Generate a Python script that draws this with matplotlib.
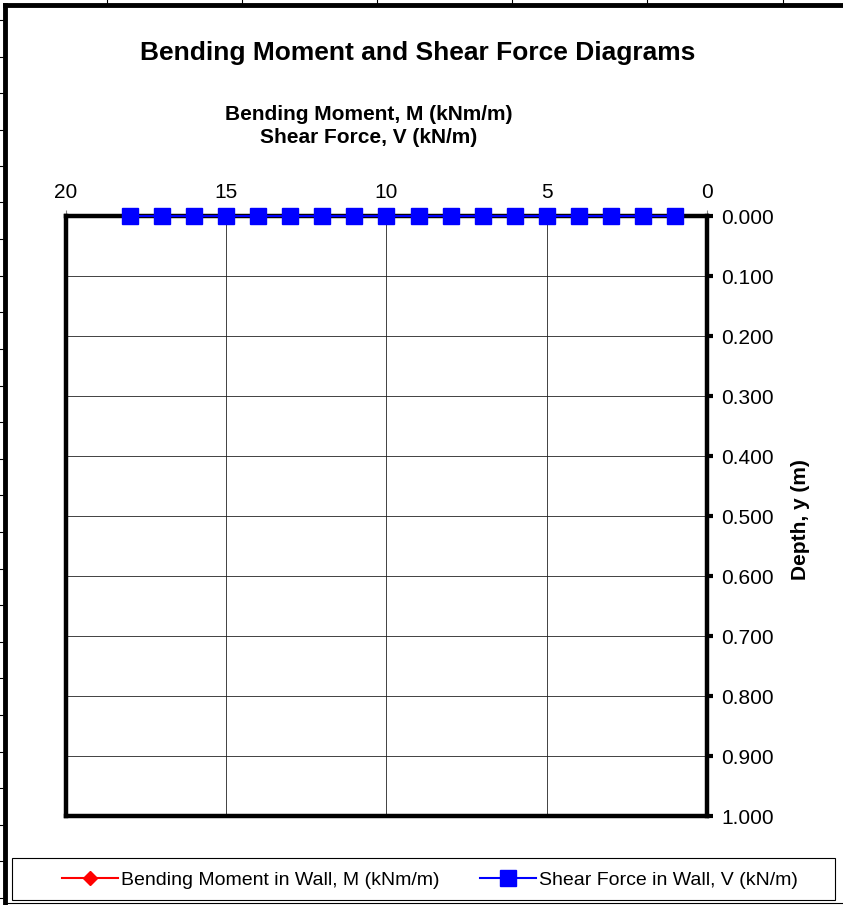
import matplotlib.pyplot as plt
from matplotlib.lines import Line2D
from matplotlib.patches import Rectangle

plt.rcParams['font.family'] = ['Liberation Sans', 'DejaVu Sans']

# data (all points sit at depth 0)
shear = [18, 17, 16, 15, 14, 13, 12, 11, 10, 9, 8, 7, 6, 5, 4, 3, 2, 1]
moment = [18, 17, 16, 15, 14, 13, 12, 11, 10, 9, 8, 7, 6, 5, 4, 3, 2, 1]
depth = [0.0, 0.0, 0.0, 0.0, 0.0, 0.0, 0.0, 0.0, 0.0, 0.0, 0.0, 0.0, 0.0, 0.0, 0.0, 0.0, 0.0, 0.0]
x_ticks = [20, 15, 10, 5, 0]
y_ticks = [0.0, 0.1, 0.2, 0.3, 0.4, 0.5, 0.6, 0.7, 0.8, 0.9, 1.0]

W, H = 843, 905
fig = plt.figure(figsize=(W/100, H/100), dpi=100)
ax = fig.add_axes([66/W, 1-816/H, (707-66)/W, 600/H])

ax.plot(moment, depth, color='red', lw=1.5, marker='D', ms=7, label='Bending Moment in Wall, M (kNm/m)', zorder=5, clip_on=False)
ax.plot(shear, depth, color='blue', lw=1.5, marker='s', ms=11, label='Shear Force in Wall, V (kN/m)', zorder=6, clip_on=False)

ax.set_xlim(20, 0)
ax.set_ylim(1, 0)
ax.set_xticks(x_ticks)
ax.set_yticks(y_ticks)
ax.set_yticklabels(['%.3f' % v for v in y_ticks])
ax.xaxis.tick_top()
ax.yaxis.tick_right()
ax.tick_params(axis='x', labelsize=15, length=4, width=0.8, color='gray', pad=6)
ax.tick_params(axis='y', labelsize=15, length=4, width=3, pad=6)
ax.grid(True, color='#222222', lw=0.6)
for s in ax.spines.values():
    s.set_linewidth(3.2)
    s.set_color('black')

fig.text(369/W, 1-126/H, 'Bending Moment, M (kNm/m)\nShear Force, V (kN/m)', fontsize=15, fontweight='bold',
         ha='center', va='center', linespacing=1.3)
fig.text(801/W, 1-520/H, 'Depth, y (m)', fontsize=15, fontweight='bold', rotation=90, ha='center', va='center')
fig.text(418/W, 1-53/H, 'Bending Moment and Shear Force Diagrams', fontsize=19, fontweight='bold', ha='center', va='center')

# legend box at the bottom
fig.add_artist(Rectangle((12/W, 1-900/H), 823/W, 42/H, transform=fig.transFigure, fill=False, lw=0.8, ec='black'))
fig.legend(loc='center', bbox_to_anchor=(430/W, 1-880/H), ncol=2, frameon=False, fontsize=14,
           handlelength=2.9, columnspacing=2.05, handletextpad=0.15)

# chart area border and sheet grid outside it
fig.add_artist(Line2D([5/W, 5/W], [0, 1-5/H], transform=fig.transFigure, color='black', lw=3.5))
fig.add_artist(Line2D([5/W, 1], [1-5/H, 1-5/H], transform=fig.transFigure, color='black', lw=3.5))
fig.add_artist(Line2D([5/W, 1], [1-903/H, 1-903/H], transform=fig.transFigure, color='black', lw=0.8))
for xp in [107, 242, 377, 512, 647, 783]:
    fig.add_artist(Line2D([xp/W, xp/W], [1-5/H, 1], transform=fig.transFigure, color='black', lw=0.8))
for yp in [20, 57, 93, 130, 166, 202, 239, 276, 312, 349, 386, 422, 459, 495, 532, 569, 605, 642, 678, 715, 752, 788, 825, 861, 898]:
    fig.add_artist(Line2D([0, 5/W], [1-yp/H, 1-yp/H], transform=fig.transFigure, color='black', lw=0.8))

fig.savefig('out.png', dpi=100)
